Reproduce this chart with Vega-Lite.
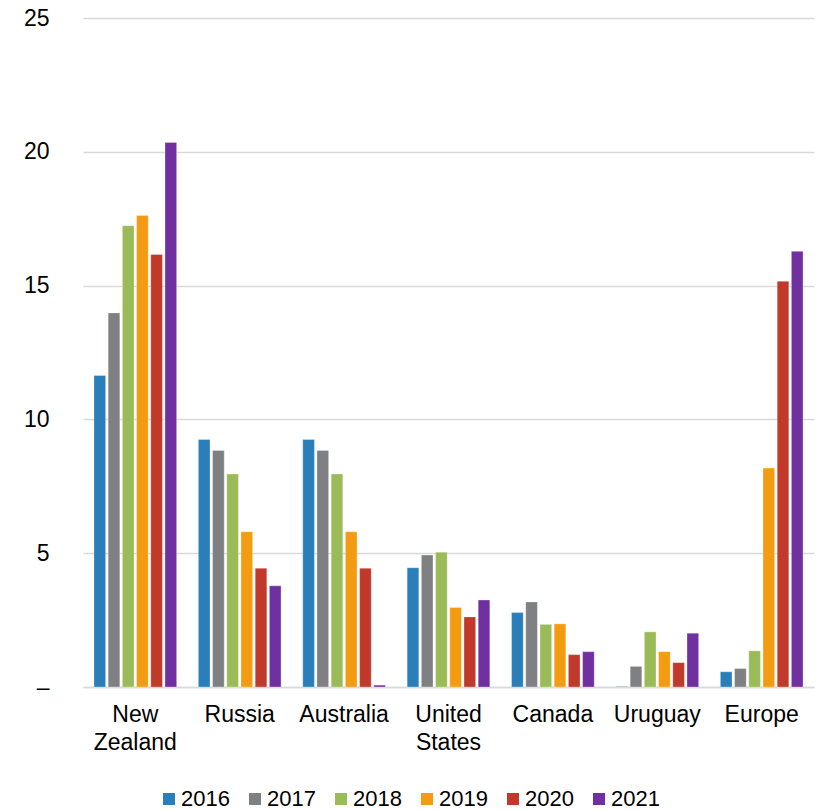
{
  "$schema": "https://vega.github.io/schema/vega-lite/v6.json",
  "width": 731,
  "height": 669,
  "autosize": {"type": "none"},
  "padding": {"left": 83, "top": 18, "right": 7, "bottom": 123},
  "background": "white",
  "config": {
    "view": {"stroke": null},
    "font": "Liberation Sans",
    "axis": {"labelFont": "Liberation Sans", "labelColor": "#000000"}
  },
  "data": {
    "values": [
      {"country": "New Zealand", "year": "2016", "value": 11.64},
      {"country": "New Zealand", "year": "2017", "value": 13.98},
      {"country": "New Zealand", "year": "2018", "value": 17.24},
      {"country": "New Zealand", "year": "2019", "value": 17.62},
      {"country": "New Zealand", "year": "2020", "value": 16.16},
      {"country": "New Zealand", "year": "2021", "value": 20.35},
      {"country": "Russia", "year": "2016", "value": 9.25},
      {"country": "Russia", "year": "2017", "value": 8.84},
      {"country": "Russia", "year": "2018", "value": 7.96},
      {"country": "Russia", "year": "2019", "value": 5.8},
      {"country": "Russia", "year": "2020", "value": 4.44},
      {"country": "Russia", "year": "2021", "value": 3.78},
      {"country": "Australia", "year": "2016", "value": 9.25},
      {"country": "Australia", "year": "2017", "value": 8.84},
      {"country": "Australia", "year": "2018", "value": 7.96},
      {"country": "Australia", "year": "2019", "value": 5.8},
      {"country": "Australia", "year": "2020", "value": 4.44},
      {"country": "Australia", "year": "2021", "value": 0.07},
      {"country": "United States", "year": "2016", "value": 4.46},
      {"country": "United States", "year": "2017", "value": 4.93},
      {"country": "United States", "year": "2018", "value": 5.04},
      {"country": "United States", "year": "2019", "value": 2.97},
      {"country": "United States", "year": "2020", "value": 2.62},
      {"country": "United States", "year": "2021", "value": 3.25},
      {"country": "Canada", "year": "2016", "value": 2.78},
      {"country": "Canada", "year": "2017", "value": 3.18},
      {"country": "Canada", "year": "2018", "value": 2.34},
      {"country": "Canada", "year": "2019", "value": 2.36},
      {"country": "Canada", "year": "2020", "value": 1.21},
      {"country": "Canada", "year": "2021", "value": 1.32},
      {"country": "Uruguay", "year": "2016", "value": 0.02},
      {"country": "Uruguay", "year": "2017", "value": 0.77},
      {"country": "Uruguay", "year": "2018", "value": 2.06},
      {"country": "Uruguay", "year": "2019", "value": 1.32},
      {"country": "Uruguay", "year": "2020", "value": 0.91},
      {"country": "Uruguay", "year": "2021", "value": 2.01},
      {"country": "Europe", "year": "2016", "value": 0.57},
      {"country": "Europe", "year": "2017", "value": 0.69},
      {"country": "Europe", "year": "2018", "value": 1.35},
      {"country": "Europe", "year": "2019", "value": 8.18},
      {"country": "Europe", "year": "2020", "value": 15.16},
      {"country": "Europe", "year": "2021", "value": 16.28}
    ]
  },
  "mark": {"type": "bar", "stroke": "#ffffff", "strokeWidth": 0.5, "strokeOpacity": 0.6},
  "encoding": {
    "x": {
      "field": "country",
      "type": "nominal",
      "sort": null,
      "scale": {"paddingInner": 0.208, "paddingOuter": 0.105},
      "axis": {
        "title": null,
        "labelAngle": 0,
        "labelFontSize": 23,
        "labelPadding": 16,
        "labelLineHeight": 28,
        "labelBaseline": "top",
        "labelExpr": "split(datum.label, ' ')",
        "ticks": false,
        "domain": true,
        "domainColor": "#d9d9d9",
        "domainWidth": 1.5
      }
    },
    "xOffset": {
      "field": "year",
      "type": "nominal",
      "scale": {"paddingInner": 0.18, "paddingOuter": 0}
    },
    "y": {
      "field": "value",
      "type": "quantitative",
      "scale": {"domain": [0, 25], "nice": false},
      "axis": {
        "title": null,
        "values": [0, 5, 10, 15, 20, 25],
        "labelExpr": "datum.value == 0 ? '–' : datum.label",
        "labelFontSize": 23,
        "labelPadding": 34,
        "ticks": false,
        "domain": false,
        "gridColor": "#d9d9d9",
        "gridWidth": 1.5
      }
    },
    "color": {
      "field": "year",
      "type": "nominal",
      "scale": {
        "domain": ["2016", "2017", "2018", "2019", "2020", "2021"],
        "range": ["#2a7fba", "#7f8083", "#9bbb59", "#f39c12", "#c0392b", "#7030a0"]
      },
      "legend": {
        "title": null,
        "orient": "none",
        "direction": "horizontal",
        "legendX": 75,
        "legendY": 770,
        "symbolType": "square",
        "symbolSize": 144,
        "symbolStrokeWidth": 0,
        "symbolOpacity": 1,
        "labelFontSize": 22,
        "labelColor": "#000000",
        "labelOffset": 1,
        "columnPadding": 14,
        "padding": 0
      }
    }
  }
}
